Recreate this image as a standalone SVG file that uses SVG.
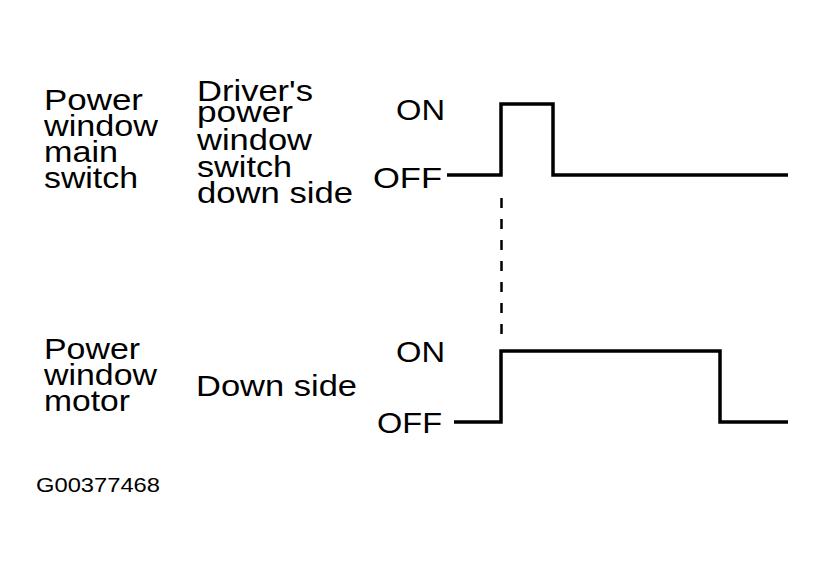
<svg xmlns="http://www.w3.org/2000/svg" width="825" height="567" viewBox="0 0 825 567">
<style>
text{font-family:"Liberation Sans",Arial,sans-serif;font-size:30px;fill:#000}
.id{font-size:20px}
.wave{fill:none;stroke:#000;stroke-width:3.5;stroke-linejoin:miter;stroke-linecap:butt}
.dash{fill:none;stroke:#000;stroke-width:2.5;stroke-dasharray:10 11}
</style>
<rect width="825" height="567" fill="#fff"/>
<g id="label-main-switch">
<text x="44" y="110" textLength="99" lengthAdjust="spacingAndGlyphs">Power</text>
<text x="44" y="136" textLength="114" lengthAdjust="spacingAndGlyphs">window</text>
<text x="44" y="162" textLength="74" lengthAdjust="spacingAndGlyphs">main</text>
<text x="44" y="188" textLength="94" lengthAdjust="spacingAndGlyphs">switch</text>
</g>
<g id="label-driver-switch">
<text x="197" y="101" textLength="116" lengthAdjust="spacingAndGlyphs">Driver's</text>
<text x="197" y="122" textLength="96" lengthAdjust="spacingAndGlyphs">power</text>
<text x="197" y="150" textLength="115" lengthAdjust="spacingAndGlyphs">window</text>
<text x="197" y="177" textLength="95" lengthAdjust="spacingAndGlyphs">switch</text>
<text x="197" y="203" textLength="156" lengthAdjust="spacingAndGlyphs">down side</text>
</g>
<g id="signal-switch">
<text x="396" y="120" textLength="49" lengthAdjust="spacingAndGlyphs">ON</text>
<text x="373" y="188" textLength="69" lengthAdjust="spacingAndGlyphs">OFF</text>
<path class="wave" d="M447,175 H501 V104 H553 V175 H788"/>
</g>
<g id="label-motor">
<text x="44" y="359" textLength="96" lengthAdjust="spacingAndGlyphs">Power</text>
<text x="44" y="385" textLength="113" lengthAdjust="spacingAndGlyphs">window</text>
<text x="44" y="411" textLength="86" lengthAdjust="spacingAndGlyphs">motor</text>
</g>
<g id="label-down-side">
<text x="196" y="396" textLength="161" lengthAdjust="spacingAndGlyphs">Down side</text>
</g>
<g id="signal-motor">
<text x="396" y="362" textLength="49" lengthAdjust="spacingAndGlyphs">ON</text>
<text x="377" y="433" textLength="65" lengthAdjust="spacingAndGlyphs">OFF</text>
<path class="wave" d="M454,422 H501 V351 H720 V422 H788"/>
</g>
<g id="connectors">
<line class="dash" x1="501.5" y1="198" x2="501.5" y2="340"/>
</g>
<g id="figure-id">
<text class="id" x="36" y="492" textLength="124" lengthAdjust="spacingAndGlyphs">G00377468</text>
</g>
</svg>
